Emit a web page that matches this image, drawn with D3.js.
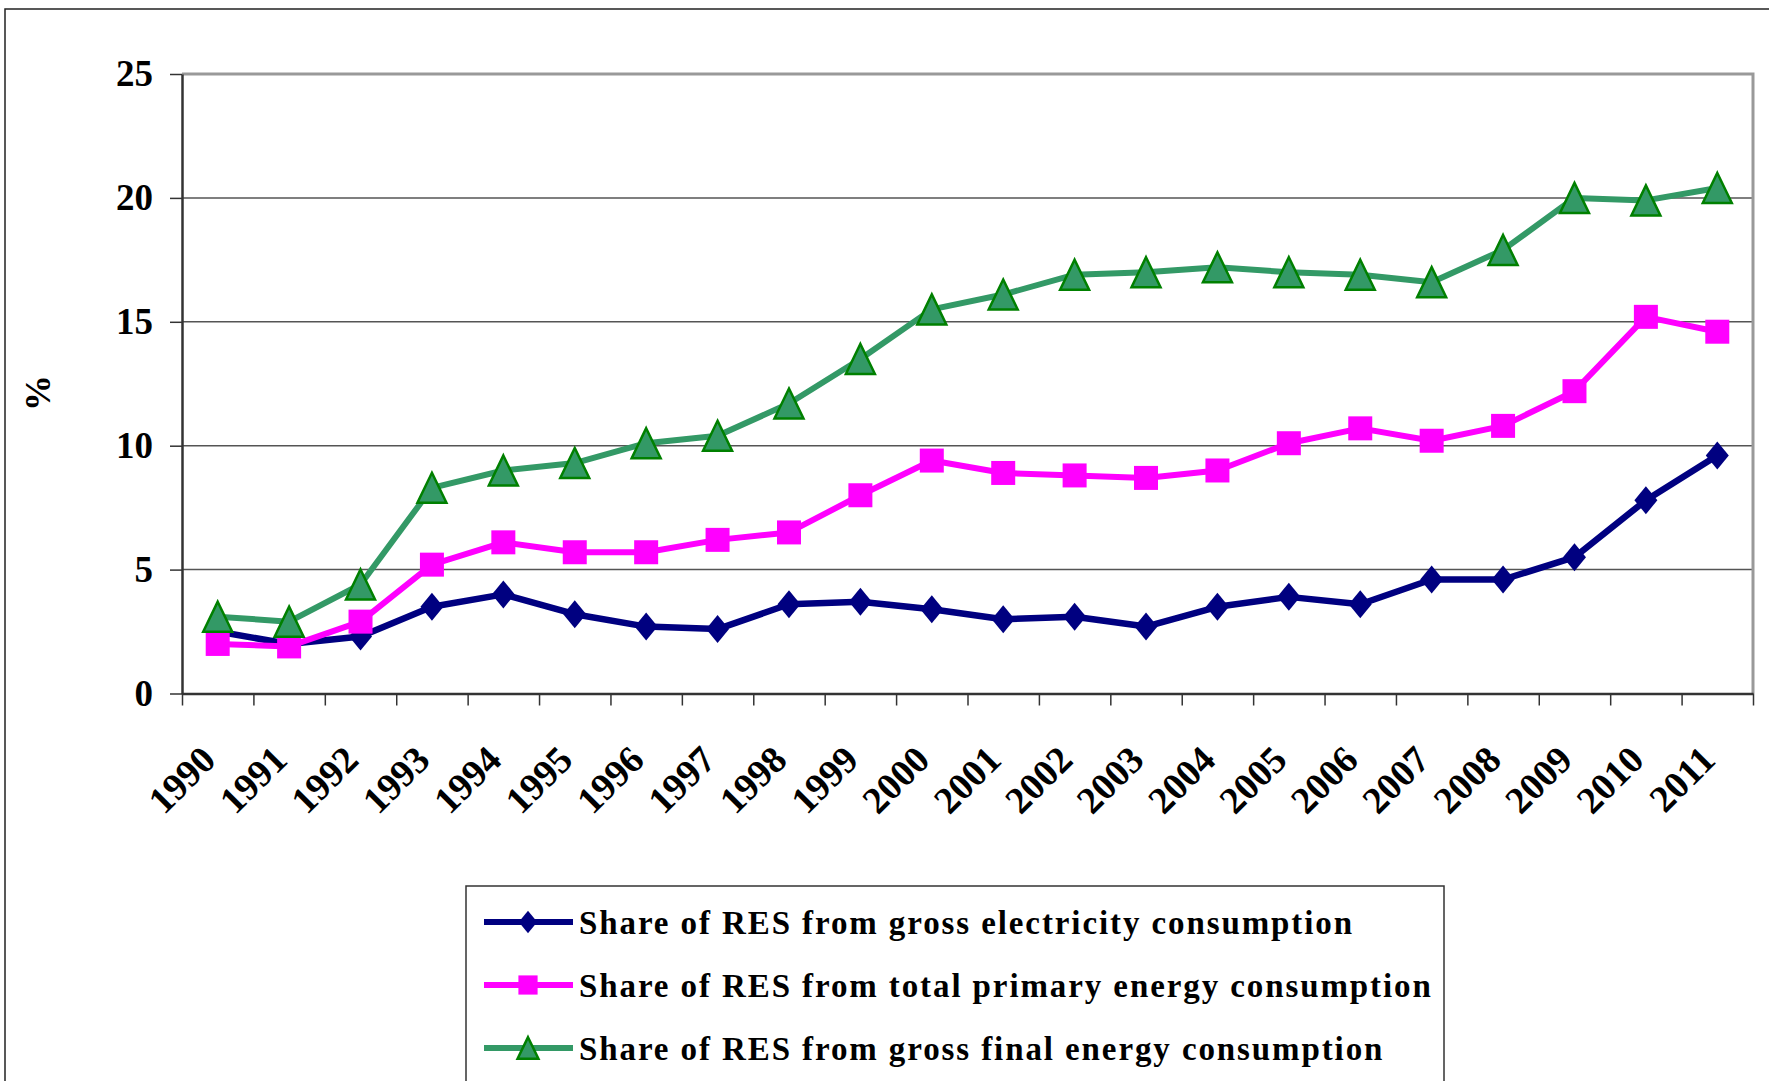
<!DOCTYPE html>
<html>
<head>
<meta charset="utf-8">
<script src="https://cdn.jsdelivr.net/npm/d3@7"></script>
<style>
  body { margin: 0; background: #fff; }
  svg { display: block; }
</style>
</head>
<body>
<svg width="1769" height="1081"></svg>
<script>
const years = ["1990", "1991", "1992", "1993", "1994", "1995", "1996", "1997", "1998", "1999", "2000",
               "2001", "2002", "2003", "2004", "2005", "2006", "2007", "2008", "2009", "2010", "2011"];
const electricity = [2.5, 2.0, 2.3, 3.5, 4.0, 3.2, 2.7, 2.6, 3.6, 3.7, 3.4, 3.0, 3.1, 2.7, 3.5, 3.9, 3.6, 4.6, 4.6, 5.5, 7.8, 9.6];
const primary = [2.0, 1.9, 2.9, 5.2, 6.1, 5.7, 5.7, 6.2, 6.5, 8.0, 9.4, 8.9, 8.8, 8.7, 9.0, 10.1, 10.7, 10.2, 10.8, 12.2, 15.2, 14.6];
const finalEnergy = [3.1, 2.9, 4.4, 8.3, 9.0, 9.3, 10.1, 10.4, 11.7, 13.5, 15.5, 16.1, 16.9, 17.0, 17.2, 17.0, 16.9, 16.6, 17.9, 20.0, 19.9, 20.4];
const seriesNames = [
    "Share of RES from gross electricity consumption",
    "Share of RES from total primary energy consumption",
    "Share of RES from gross final energy consumption"
];
const yTicks = [0, 5, 10, 15, 20, 25];
const yLabel = "%";

const FONT = "Liberation Serif, Times New Roman, serif";
const plot = { left: 182, right: 1753, top: 74, bottom: 693.5 };

const series = [
    { name: seriesNames[0], values: electricity, line: "#000080", fill: "#000080", stroke: "none", marker: "diamond", width: 6.5 },
    { name: seriesNames[1], values: primary, line: "#ff00ff", fill: "#ff00ff", stroke: "none", marker: "square", width: 6 },
    { name: seriesNames[2], values: finalEnergy, line: "#339966", fill: "#339966", stroke: "#008000", marker: "triangle", width: 6 }
];

const svg = d3.select("svg")
    .attr("font-family", FONT)
    .attr("font-weight", "bold");

const x = d3.scaleBand().domain(years).range([plot.left, plot.right]).padding(0);
const xEdge = d3.scaleLinear().domain([0, years.length]).range([plot.left, plot.right]);
const y = d3.scaleLinear().domain([0, 25]).range([plot.bottom, plot.top]);
const cx = d => x(d) + x.bandwidth() / 2;

// marker shapes, centred on 0,0
function markerPath(kind, k) {
    k = k || 1;
    if (kind === "diamond") {
        const w = 11.5 * k, h = 14 * k;
        return `M0,${-h}L${w},0L0,${h}L${-w},0Z`;
    }
    if (kind === "square") {
        const s = 12 * k;
        return `M${-s},${-s}H${s}V${s}H${-s}Z`;
    }
    const w = 14.5 * k, h = 15 * k;
    return `M0,${-h}L${w},${h}L${-w},${h}Z`;
}

drawFrame();
drawGrid();
drawAxes();
drawSeries();
drawLegend();

function drawFrame() {
    svg.append("rect")
        .attr("x", 5).attr("y", 9)
        .attr("width", 1800).attr("height", 1100)
        .attr("fill", "#fff")
        .attr("stroke", "#222")
        .attr("stroke-width", 1.5);
}

function drawGrid() {
    svg.append("g")
        .selectAll("line")
        .data(yTicks.filter(t => t > 0 && t < 25))
        .enter().append("line")
        .attr("x1", plot.left).attr("x2", plot.right)
        .attr("y1", d => y(d)).attr("y2", d => y(d))
        .attr("stroke", "#555")
        .attr("stroke-width", 1.5);

    // grey plot-area border on top and right
    svg.append("path")
        .attr("d", `M${plot.left},${y(25)}H${plot.right}V${plot.bottom}`)
        .attr("fill", "none")
        .attr("stroke", "#999")
        .attr("stroke-width", 3);
}

function drawAxes() {
    const yAxis = svg.append("g")
        .attr("transform", `translate(${plot.left},0)`)
        .call(d3.axisLeft(y).tickValues(yTicks).tickSize(12).tickSizeOuter(0).tickPadding(17));
    yAxis.attr("font-family", FONT).attr("font-size", 37);
    yAxis.select(".domain").attr("stroke", "#333").attr("stroke-width", 2.5);
    yAxis.selectAll(".tick line").attr("stroke", "#333").attr("stroke-width", 1.5);
    yAxis.selectAll(".tick text").attr("fill", "#000");

    const xAxis = svg.append("g")
        .attr("transform", `translate(0,${plot.bottom})`)
        .call(d3.axisBottom(xEdge).tickValues(d3.range(years.length + 1)).tickSize(12).tickSizeOuter(0).tickFormat(""));
    xAxis.select(".domain").attr("stroke", "#333").attr("stroke-width", 2.5);
    xAxis.selectAll(".tick line").attr("stroke", "#333").attr("stroke-width", 1.5);

    svg.append("g")
        .selectAll("text")
        .data(years)
        .enter().append("text")
        .attr("transform", d => `translate(${cx(d)},${762}) rotate(-45)`)
        .attr("text-anchor", "end")
        .attr("font-family", FONT)
        .attr("font-size", 38)
        .attr("fill", "#000")
        .text(d => d);

    svg.append("text")
        .attr("transform", "translate(50,393) rotate(-90)")
        .attr("text-anchor", "middle")
        .attr("font-family", FONT)
        .attr("font-size", 36)
        .attr("fill", "#000")
        .text(yLabel);
}

function drawSeries() {
    const line = d3.line()
        .x((d, i) => cx(years[i]))
        .y(d => y(d));

    series.forEach(s => {
        const g = svg.append("g");
        g.append("path")
            .datum(s.values)
            .attr("d", line)
            .attr("fill", "none")
            .attr("stroke", s.line)
            .attr("stroke-width", s.width)
            .attr("stroke-linejoin", "round");
        g.selectAll(".marker")
            .data(s.values)
            .enter().append("path")
            .attr("class", "marker")
            .attr("transform", (d, i) => `translate(${cx(years[i])},${y(d)})`)
            .attr("d", markerPath(s.marker))
            .attr("fill", s.fill)
            .attr("stroke", s.stroke)
            .attr("stroke-width", 2.5);
    });
}

function drawLegend() {
    const lg = svg.append("g");
    lg.append("rect")
        .attr("x", 466).attr("y", 886)
        .attr("width", 978).attr("height", 300)
        .attr("fill", "#fff")
        .attr("stroke", "#333")
        .attr("stroke-width", 1.5);

    const rows = lg.selectAll(".row")
        .data(series)
        .enter().append("g")
        .attr("class", "row")
        .attr("transform", (d, i) => `translate(0,${922 + i * 63})`);

    rows.append("line")
        .attr("x1", 484).attr("x2", 573)
        .attr("stroke", d => d.line)
        .attr("stroke-width", 6);
    rows.append("path")
        .attr("transform", "translate(528,0)")
        .attr("d", d => markerPath(d.marker, d.marker === "triangle" ? 0.72 : 0.8))
        .attr("fill", d => d.fill)
        .attr("stroke", d => d.stroke)
        .attr("stroke-width", 2.5);
    rows.append("text")
        .attr("x", 579)
        .attr("dy", "0.35em")
        .attr("font-family", FONT)
        .attr("font-size", 33)
        .attr("letter-spacing", "1.9px")
        .attr("fill", "#000")
        .text(d => d.name);
}
</script>
</body>
</html>
